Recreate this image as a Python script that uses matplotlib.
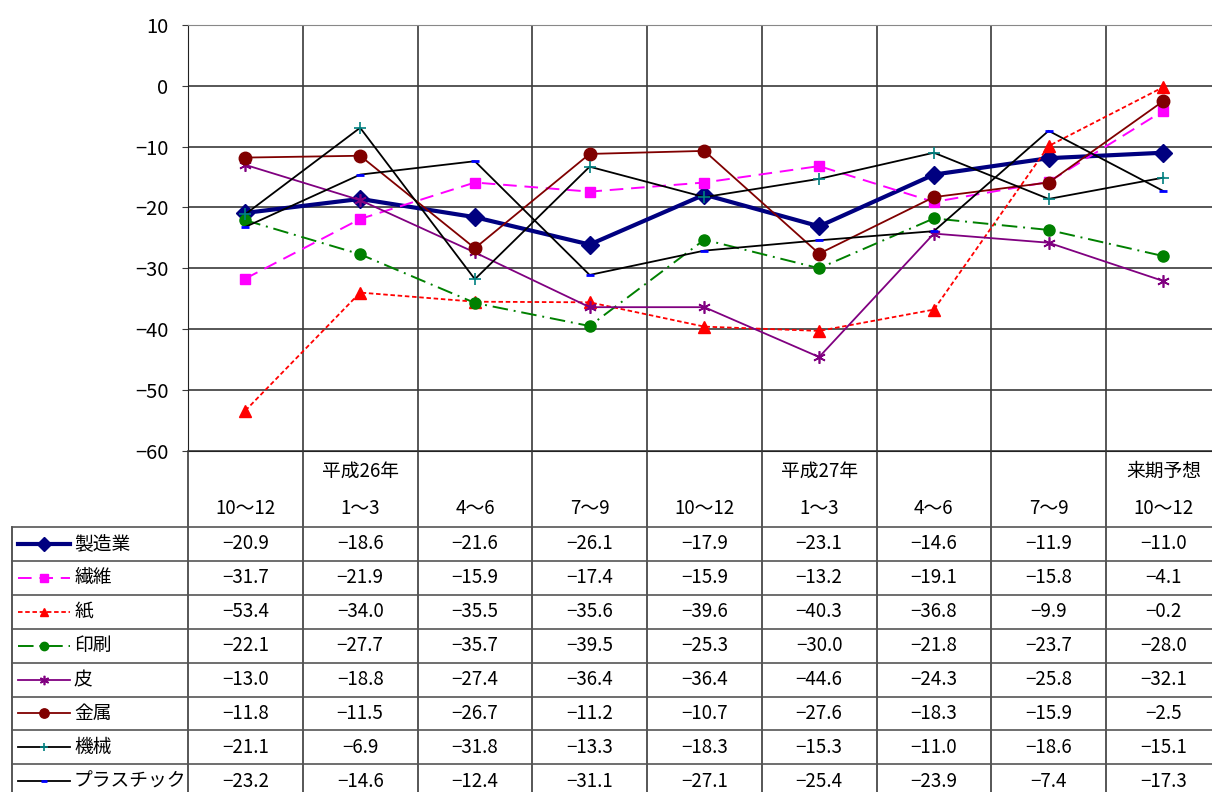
import numpy as np
import matplotlib
matplotlib.use('Agg')
import matplotlib.pyplot as plt

plt.rcParams['font.family'] = ['Noto Sans CJK JP', 'DejaVu Sans']
plt.rcParams['axes.unicode_minus'] = True

periods = ['10～12', '1～3', '4～6', '7～9', '10～12', '1～3', '4～6', '7～9', '10～12']
year_labels = {1: '平成26年', 5: '平成27年', 8: '来期予想'}
names = ['製造業', '繊維', '紙', '印刷', '皮', '金属', '機械', 'プラスチック']

seizo = [-20.9, -18.6, -21.6, -26.1, -17.9, -23.1, -14.6, -11.9, -11.0]
seni = [-31.7, -21.9, -15.9, -17.4, -15.9, -13.2, -19.1, -15.8, -4.1]
kami = [-53.4, -34.0, -35.5, -35.6, -39.6, -40.3, -36.8, -9.9, -0.2]
insatsu = [-22.1, -27.7, -35.7, -39.5, -25.3, -30.0, -21.8, -23.7, -28.0]
kawa = [-13.0, -18.8, -27.4, -36.4, -36.4, -44.6, -24.3, -25.8, -32.1]
kinzoku = [-11.8, -11.5, -26.7, -11.2, -10.7, -27.6, -18.3, -15.9, -2.5]
kikai = [-21.1, -6.9, -31.8, -13.3, -18.3, -15.3, -11.0, -18.6, -15.1]
plastic = [-23.2, -14.6, -12.4, -31.1, -27.1, -25.4, -23.9, -7.4, -17.3]
series = [seizo, seni, kami, insatsu, kawa, kinzoku, kikai, plastic]

# line styles per series
styles = [
    dict(color='#000080', lw=3.0, ls='-', marker='D', ms=9, mfc='#000080', mec='#000080'),
    dict(color='#FF00FF', lw=1.4, ls=(0, (7, 4)), marker='s', ms=7, mfc='#FF00FF', mec='#FF00FF'),
    dict(color='#FF0000', lw=1.3, ls=(0, (2.5, 1.5)), marker='^', ms=8, mfc='#FF0000', mec='#FF0000'),
    dict(color='#008000', lw=1.4, ls=(0, (8, 3, 1, 3)), marker='o', ms=8, mfc='#008000', mec='#008000'),
    dict(color='#800080', lw=1.3, ls='-', marker=(6, 2, 0), ms=9, mfc='#800080', mec='#800080', mew=1.2),
    dict(color='#800000', lw=1.3, ls='-', marker='o', ms=9, mfc='#800000', mec='#800000'),
    dict(color='#000000', lw=1.3, ls='-', marker='+', ms=8, mfc='#008080', mec='#008080', mew=1.2),
    dict(color='#000000', lw=1.3, ls='-', marker='_', ms=6, mfc='#0000FF', mec='#0000FF', mew=2),
]

W, H = 1212, 792
col_w = 114.75
x0 = 188
y_top, y_bot = 25, 450.7
row_top, row_h = 527, 33.9
fs = 13.5
grid_c = '#3a3a3a'

fig = plt.figure(figsize=(W / 100, H / 100), dpi=100)
ax = fig.add_axes([x0 / W, 1 - y_bot / H, 9 * col_w / W, (y_bot - y_top) / H])

x = np.arange(len(periods))
for vals, st in zip(series, styles):
    ax.plot(x, vals, zorder=3, **st)

ax.set_xlim(-0.5, 8.5)
ax.set_ylim(-60, 10)
ax.set_yticks(np.arange(-60, 11, 10))
ax.set_xticks([])
ax.yaxis.grid(True, color=grid_c, lw=1.2)
for k in range(1, 9):
    ax.axvline(k - 0.5, color=grid_c, lw=1.2, zorder=1)
for s in ['top', 'right']:
    ax.spines[s].set_color('#888888')
ax.spines['left'].set_color('#222222')
ax.spines['bottom'].set_color('#222222')
ax.tick_params(axis='y', labelsize=14.5, length=4, color=grid_c, pad=10)

# table drawn in pixel coordinates
tb = fig.add_axes([0, 0, 1, 1], facecolor='none')
tb.set_xlim(0, W)
tb.set_ylim(H, 0)
tb.axis('off')

for k in range(10):
    xx = x0 + k * col_w
    tb.plot([xx, xx], [y_bot, H], color=grid_c, lw=1.2)
tb.plot([12, 12], [row_top, H], color=grid_c, lw=1.2)
for r in range(9):
    yy = row_top + r * row_h
    tb.plot([12, W], [yy, yy], color='#555555', lw=1.2)

for i, p in enumerate(periods):
    cx = x0 + (i + 0.5) * col_w
    tb.text(cx, 509, p, ha='center', va='center', fontsize=fs)
    if i in year_labels:
        tb.text(cx, 471, year_labels[i], ha='center', va='center', fontsize=fs)

for r, (name, vals, st) in enumerate(zip(names, series, styles)):
    cy = row_top + (r + 0.5) * row_h
    line_st = {k: v for k, v in st.items() if k not in ('marker', 'ms', 'mfc', 'mec', 'mew')}
    tb.plot([18, 70], [cy, cy], **line_st)
    tb.plot([44], [cy], ls='none', marker=st['marker'], ms=st['ms'] * 0.75,
            mfc=st['mfc'], mec=st['mec'], mew=st.get('mew', 1.0))
    tb.text(74, cy, name, ha='left', va='center', fontsize=13.5)
    for i, v in enumerate(vals):
        cx = x0 + (i + 0.5) * col_w
        tb.text(cx, cy, f'{v:.1f}'.replace('-', '\u2212'), ha='center', va='center', fontsize=fs)

fig.savefig('out.png', dpi=100)
